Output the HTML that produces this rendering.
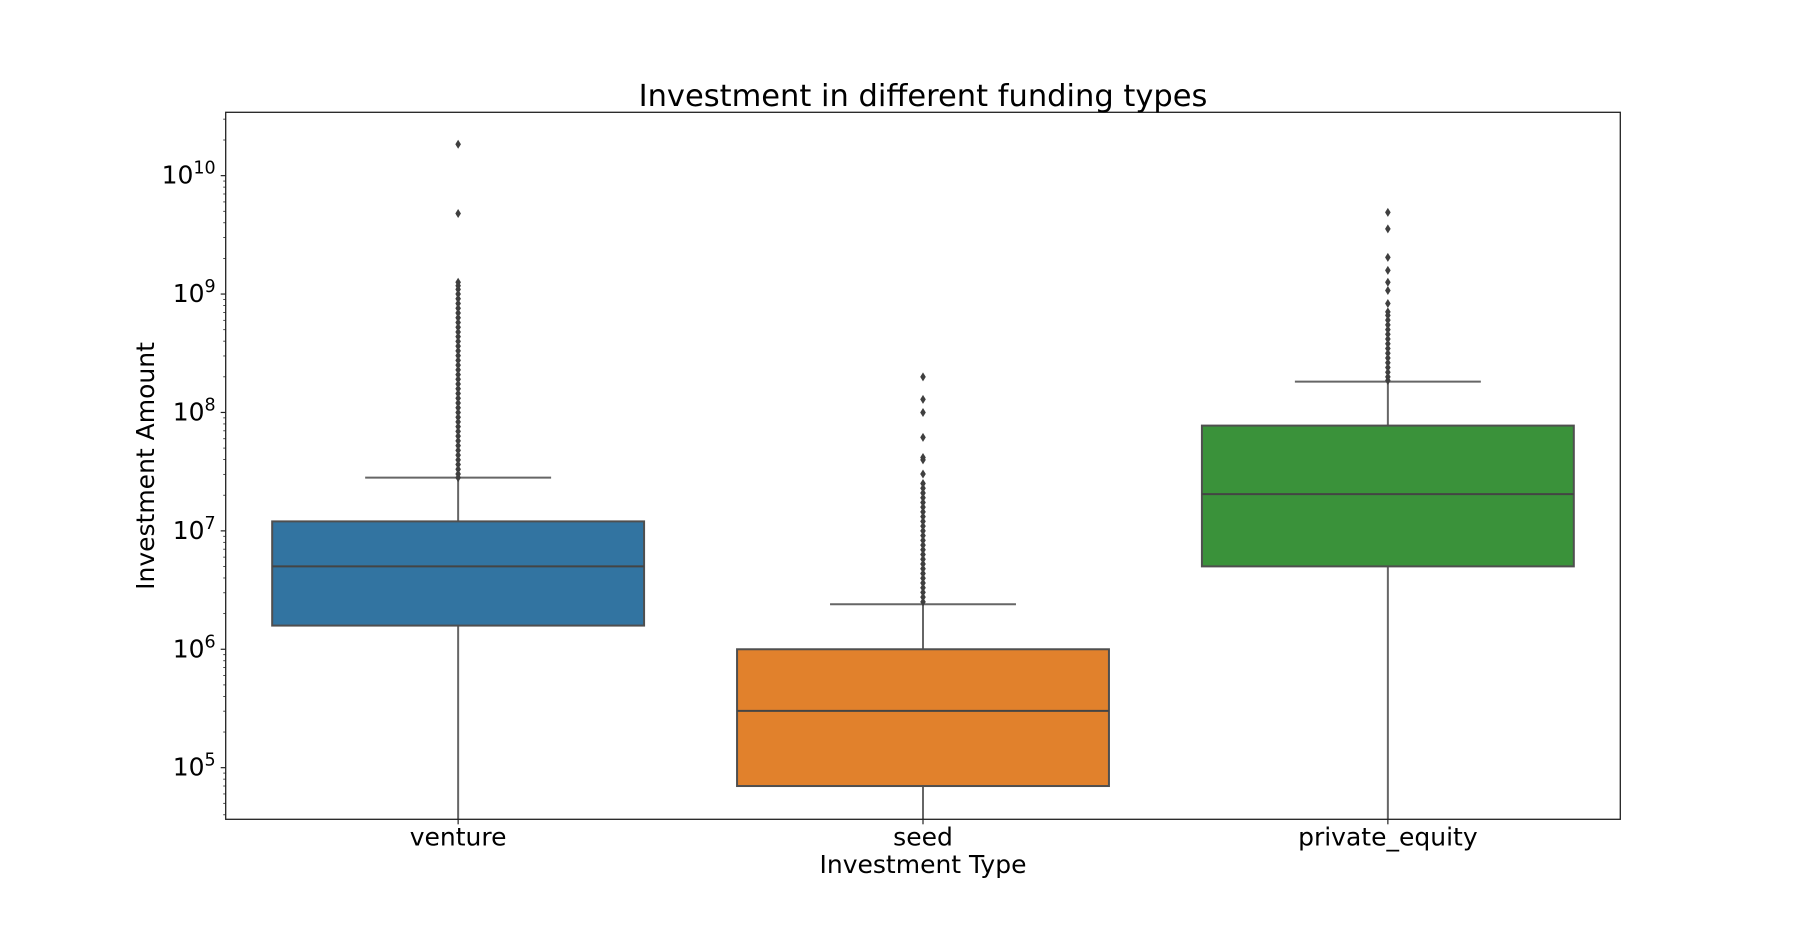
<!DOCTYPE html>
<html><head><meta charset="utf-8"><style>
html,body{margin:0;padding:0;background:#fff;}
svg{display:block;font-family:"DejaVu Sans","Liberation Sans",sans-serif;}
</style></head><body>
<svg id="chart" width="1800" height="936" viewBox="0 0 1800 936"></svg>
<script>
const categories = ["venture", "seed", "private_equity"];
const colors = ["#3274a1", "#e1812c", "#3a923a"];
// stats as log10 values
const q1 = [6.20, 4.845, 6.70];
const median = [6.70, 5.48, 7.31];
const q3 = [7.08, 6.00, 7.889];
const whiskerHigh = [7.45, 6.38, 8.26];
const whiskerLow = [4.0, 4.0, 4.0];
const outliersVenture = [10.265, 9.68, 9.10, 9.07, 9.04, 9.0, 8.96, 8.92, 8.88, 8.84, 8.80, 8.76, 8.72, 8.68, 8.64, 8.60, 8.56, 8.52, 8.48, 8.44, 8.40, 8.36, 8.32, 8.28, 8.24, 8.20, 8.16, 8.12, 8.08, 8.04, 8.0, 7.96, 7.92, 7.88, 7.84, 7.80, 7.76, 7.72, 7.68, 7.64, 7.60, 7.56, 7.52, 7.48, 7.45];
const outliersSeed = [8.30, 8.11, 8.0, 7.79, 7.62, 7.60, 7.48, 7.40, 7.36, 7.32, 7.28, 7.24, 7.20, 7.16, 7.12, 7.08, 7.04, 7.0, 6.96, 6.92, 6.88, 6.84, 6.80, 6.76, 6.72, 6.68, 6.64, 6.60, 6.56, 6.52, 6.48, 6.44, 6.40];
const outliersPE = [9.69, 9.55, 9.31, 9.20, 9.10, 9.03, 8.92, 8.85, 8.82, 8.78, 8.74, 8.70, 8.66, 8.62, 8.58, 8.54, 8.50, 8.46, 8.42, 8.38, 8.34, 8.30, 8.27];
const yTickExps = [5, 6, 7, 8, 9, 10];

const L = 225.7, R = 1620.3, T = 112.3, B = 819.3;
const vMin = 4.564, vMax = 10.535;
const y = v => B - (v - vMin) / (vMax - vMin) * (B - T);
const band = (R - L) / categories.length;
const x = i => L + band * (i + 0.5);
const NS = "http://www.w3.org/2000/svg";
const svg = document.getElementById("chart");
function mk(tag, attrs, parent) {
  const e = document.createElementNS(NS, tag);
  for (const k in attrs) e.setAttribute(k, attrs[k]);
  (parent || svg).appendChild(e);
  return e;
}
const clipDefs = mk("defs", {});
const cp = mk("clipPath", {id: "plotclip"}, clipDefs);
mk("rect", {x: L, y: T, width: R - L, height: B - T}, cp);
const plot = mk("g", {"clip-path": "url(#plotclip)"});



const allOut = [outliersVenture, outliersSeed, outliersPE];
const bw = band * 0.8;
categories.forEach((c, i) => {
  const g = mk("g", {}, plot);
  
  
  const cx = x(i);
  mk("line", {x1: cx, x2: cx, y1: y(q3[i]), y2: y(whiskerHigh[i]), stroke: "#666", "stroke-width": 2}, g);
  mk("line", {x1: cx, x2: cx, y1: y(q1[i]), y2: y(whiskerLow[i]), stroke: "#666", "stroke-width": 2}, g);
  mk("line", {x1: cx - bw / 4, x2: cx + bw / 4, y1: y(whiskerHigh[i]), y2: y(whiskerHigh[i]), stroke: "#666", "stroke-width": 2}, g);
  mk("rect", {x: cx - bw / 2, y: y(q3[i]), width: bw, height: y(q1[i]) - y(q3[i]), fill: colors[i], stroke: "#4f4f4f", "stroke-width": 2}, g);
  mk("line", {x1: cx - bw / 2, x2: cx + bw / 2, y1: y(median[i]), y2: y(median[i]), stroke: "#444", "stroke-width": 2}, g);
  allOut[i].forEach(v => {
    const py = y(v);
    const d = mk("path", {d: `M${cx} ${py - 4.5} L${cx + 2.8} ${py} L${cx} ${py + 4.5} L${cx - 2.8} ${py} Z`, fill: "#3f3f3f"}, g);
    
    
  });
});

const frame = mk("rect", {x: L, y: T, width: R - L, height: B - T, fill: "none", stroke: "#222", "stroke-width": 1.3});



const yax = mk("g", {});


for (let e = 4; e <= 10; e++) {
  for (let m = 1; m <= 9; m++) {
    const v = e + Math.log10(m);
    if (v < vMin || v > vMax) continue;
    const len = m === 1 ? 5 : 2.5;
    mk("line", {x1: L - len, x2: L, y1: y(v), y2: y(v), stroke: "#222", "stroke-width": m === 1 ? 1.2 : 0.8}, yax);
  }
}
yTickExps.forEach(e => {
  const t = mk("text", {x: L - 10, y: y(e) + 8, "text-anchor": "end", "font-size": 25, fill: "#000"}, yax);
  
  
  const a = mk("tspan", {}, t); a.textContent = "10";
  const b = mk("tspan", {dy: -10, "font-size": 17.5}, t); b.textContent = String(e);
});
const xax = mk("g", {});


categories.forEach((c, i) => {
  mk("line", {x1: x(i), x2: x(i), y1: B, y2: B + 5, stroke: "#222", "stroke-width": 1.2}, xax);
  const t = mk("text", {x: x(i), y: B + 26, "text-anchor": "middle", "font-size": 25, fill: "#000"}, xax);
  
  
  t.textContent = c;
});
</script>
<svg style="position:absolute;left:0;top:0" width="1800" height="936">
<text x="923" y="106" text-anchor="middle" font-size="30.5" font-family="DejaVu Sans, Liberation Sans, sans-serif">Investment in different funding types</text>
<text x="923" y="873" text-anchor="middle" font-size="25" font-family="DejaVu Sans, Liberation Sans, sans-serif">Investment Type</text>
<text x="0" y="0" transform="translate(154,466) rotate(-90)" text-anchor="middle" font-size="25" font-family="DejaVu Sans, Liberation Sans, sans-serif">Investment Amount</text>
</svg>
</body></html>
